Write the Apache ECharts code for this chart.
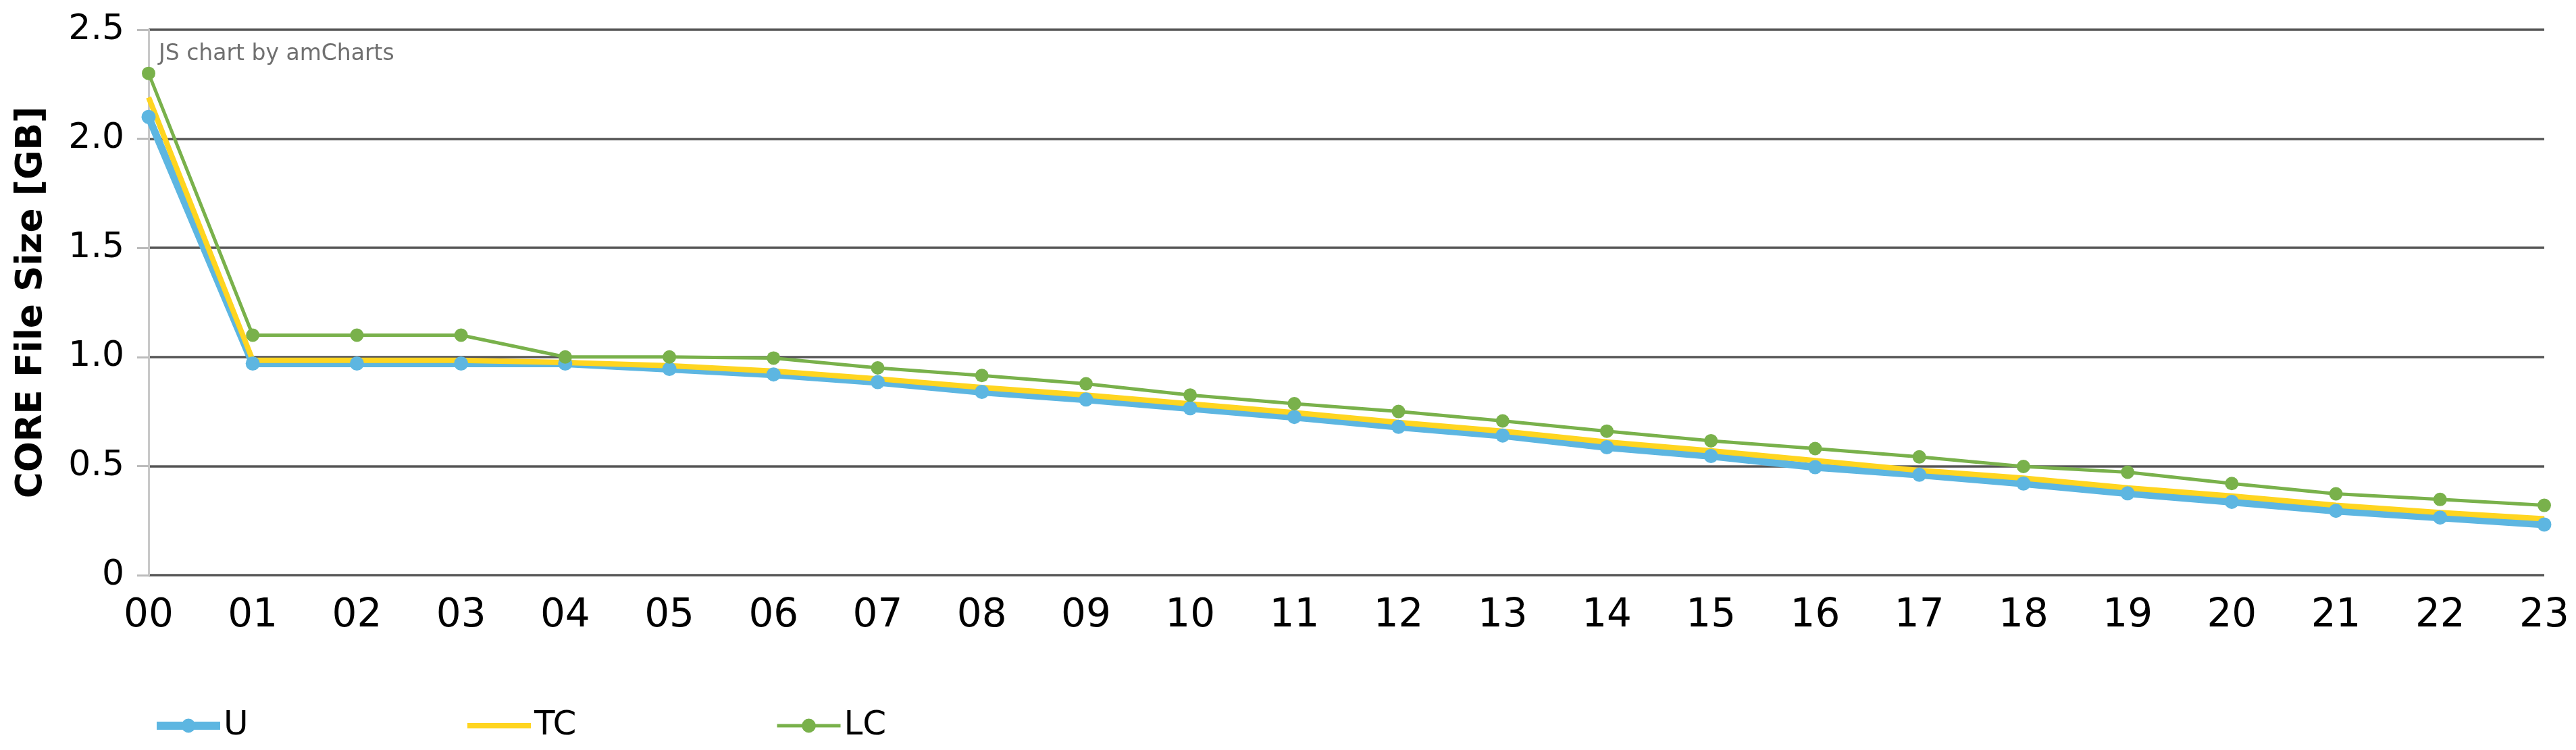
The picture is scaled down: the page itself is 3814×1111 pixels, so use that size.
<!DOCTYPE html>
<html lang="en">
<head>
    <meta charset="UTF-8">
    <title>CORE File Size</title>
    <script src="https://cdn.jsdelivr.net/npm/echarts/dist/echarts.min.js"></script>
    <style>
        html, body {
            margin: 0;
            padding: 0;
            background: #ffffff;
        }
        #coreChart {
            width: 3814px;
            height: 1111px;
        }
    </style>
</head>
<body>
    <div id="coreChart"></div>

    <script>
        // hours of the day
        var hours = ['00', '01', '02', '03', '04', '05', '06', '07', '08', '09', '10', '11',
                     '12', '13', '14', '15', '16', '17', '18', '19', '20', '21', '22', '23'];

        var uValues  = [2.10, 0.97, 0.97, 0.97, 0.97, 0.945, 0.92, 0.885, 0.84, 0.805, 0.765, 0.725,
                        0.68, 0.64, 0.586, 0.546, 0.495, 0.46, 0.42, 0.375, 0.336, 0.295, 0.264, 0.232];
        var tcValues = [2.19, 0.985, 0.985, 0.985, 0.975, 0.96, 0.935, 0.90, 0.86, 0.825, 0.785, 0.745,
                        0.70, 0.66, 0.61, 0.57, 0.525, 0.48, 0.445, 0.40, 0.363, 0.32, 0.287, 0.258];
        var lcValues = [2.30, 1.10, 1.10, 1.10, 1.00, 1.00, 0.995, 0.95, 0.915, 0.877, 0.825, 0.786,
                        0.75, 0.707, 0.66, 0.616, 0.58, 0.542, 0.498, 0.472, 0.42, 0.373, 0.347, 0.32];

        var yTickLabels = ['0', '0.5', '1.0', '1.5', '2.0', '2.5'];

        var font = 'DejaVu Sans, Verdana, sans-serif';

        function legendFor(name, left, lineWidth) {
            return {
                data: [name === 'TC' ? { name: name, itemStyle: { opacity: 0 } } : name],
                left: left,
                top: 1045,
                itemWidth: 94,
                itemHeight: 26,
                lineStyle: { width: lineWidth },
                textStyle: { fontFamily: font, fontSize: 50, color: '#000' },
                selectedMode: false
            };
        }

        var chart = echarts.init(document.getElementById('coreChart'));
        var option = {
            animation: false,
            grid: {
                left: 220,
                right: 47,
                top: 44,
                bottom: 259
            },
            legend: [
                legendFor('U', 221, 12),
                legendFor('TC', 683, 8),
                legendFor('LC', 1143, 5)
            ],
            graphic: [{
                type: 'text',
                left: 235,
                top: 64,
                style: {
                    text: 'JS chart by amCharts',
                    fontFamily: font,
                    fontSize: 33,
                    fill: '#707070'
                }
            }],
            xAxis: {
                type: 'category',
                data: hours,
                boundaryGap: false,
                axisLine: { show: false },
                axisTick: { show: false },
                axisLabel: {
                    margin: 32,
                    fontFamily: font,
                    fontSize: 58,
                    color: '#000'
                }
            },
            yAxis: {
                type: 'value',
                min: 0,
                max: 2.5,
                interval: 0.5,
                name: 'CORE File Size [GB]',
                nameLocation: 'middle',
                nameGap: 146,
                nameTextStyle: {
                    fontFamily: font,
                    fontSize: 53,
                    fontWeight: 'bold',
                    color: '#000'
                },
                axisLine: { show: true, lineStyle: { color: '#c8c8c8', width: 3 } },
                axisTick: { show: true, length: 17, lineStyle: { color: '#bbbbbb', width: 3 } },
                axisLabel: {
                    margin: 36,
                    fontFamily: font,
                    fontSize: 52,
                    color: '#000',
                    formatter: function (v, i) { return yTickLabels[i]; }
                },
                splitLine: { show: true, lineStyle: { color: '#555', width: 3.5 } }
            },
            series: [
                {
                    name: 'U',
                    type: 'line',
                    data: uValues,
                    color: '#5db6e1',
                    symbol: 'circle',
                    symbolSize: 21,
                    showAllSymbol: true,
                    lineStyle: { width: 11 },
                    emphasis: { disabled: true }
                },
                {
                    name: 'TC',
                    type: 'line',
                    data: tcValues,
                    color: '#ffd520',
                    symbol: 'none',
                    lineStyle: { width: 8 },
                    emphasis: { disabled: true }
                },
                {
                    name: 'LC',
                    type: 'line',
                    data: lcValues,
                    color: '#79b14b',
                    symbol: 'circle',
                    symbolSize: 20,
                    showAllSymbol: true,
                    lineStyle: { width: 5 },
                    emphasis: { disabled: true }
                }
            ]
        };
        chart.setOption(option);
    </script>
</body>
</html>
